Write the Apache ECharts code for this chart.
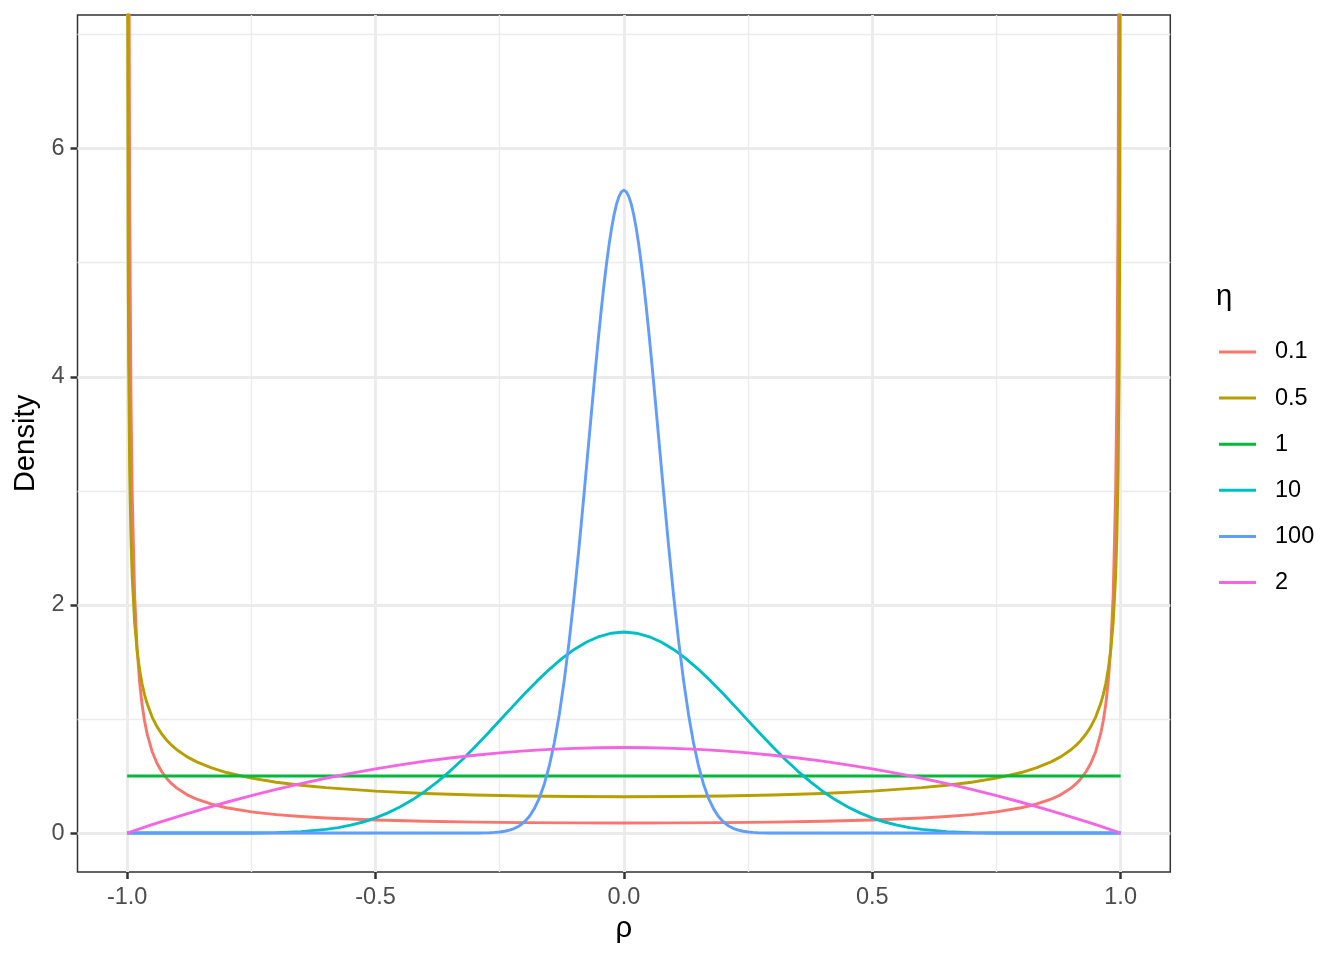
<!DOCTYPE html>
<html><head><meta charset="utf-8">
<script src="https://cdn.jsdelivr.net/npm/echarts@6/dist/echarts.min.js"></script>
<style>html,body{margin:0;padding:0;background:#fff}#c{width:1344px;height:960px}</style>
</head><body><div id="c"></div>
<script>
// ---- data ----
const seriesNames = ['0.1', '0.5', '1', '10', '100', '2'];

const rhoEnds = [-0.9995,-0.999,-0.998,-0.997,-0.995,-0.9925,-0.99,-0.985,-0.98,-0.975,-0.97,-0.965,-0.96,-0.95,-0.94,-0.93,-0.92,-0.91,-0.9,-0.88,-0.86,-0.83,-0.8,-0.75,-0.7,-0.65,-0.6,-0.5,-0.4,-0.3,-0.2,-0.1,
  0,
  0.1,0.2,0.3,0.4,0.5,0.6,0.65,0.7,0.75,0.8,0.83,0.86,0.88,0.9,0.91,0.92,0.93,0.94,0.95,0.96,0.965,0.97,0.975,0.98,0.985,0.99,0.9925,0.995,0.997,0.998,0.999,0.9995];
const dens01 = [44.27,23.73,12.72,8.837,5.585,3.882,3.000,2.087,1.615,1.324,1.126,0.9826,0.8733,0.7177,0.6119,0.5351,0.4768,0.4308,0.3937,0.3373,0.2965,0.2526,0.2215,0.1859,0.1619,0.1448,0.1320,0.1144,0.1033,0.0961,0.0916,0.0891,
  0.0883,
  0.0891,0.0916,0.0961,0.1033,0.1144,0.1320,0.1448,0.1619,0.1859,0.2215,0.2526,0.2965,0.3373,0.3937,0.4308,0.4768,0.5351,0.6119,0.7177,0.8733,0.9826,1.126,1.324,1.615,2.087,3.000,3.882,5.585,8.837,12.72,23.73,44.27];
const dens05 = [10.07,7.119,5.036,4.112,3.187,2.604,2.256,1.845,1.600,1.433,1.309,1.214,1.137,1.019,0.9330,0.8660,0.8122,0.7677,0.7303,0.6702,0.6238,0.5707,0.5305,0.4812,0.4457,0.4189,0.3979,0.3676,0.3473,0.3337,0.3249,0.3199,
  0.3183,
  0.3199,0.3249,0.3337,0.3473,0.3676,0.3979,0.4189,0.4457,0.4812,0.5305,0.5707,0.6238,0.6702,0.7303,0.7677,0.8122,0.8660,0.9330,1.019,1.137,1.214,1.309,1.433,1.600,1.845,2.256,2.604,3.187,4.112,5.036,7.119,10.07];

const rhoFlat = [-1, 0, 1];
const dens1 = [0.5, 0.5, 0.5];

const rhoCyan = [-1,-0.95,-0.9,-0.85,-0.8,-0.75,-0.7,-0.65,-0.6,-0.575,-0.55,-0.525,-0.5,-0.475,-0.45,-0.425,-0.4,-0.375,-0.35,-0.325,-0.3,-0.275,-0.25,-0.225,-0.2,-0.175,-0.15,-0.125,-0.1,-0.075,-0.05,-0.025,
  0,
  0.025,0.05,0.075,0.1,0.125,0.15,0.175,0.2,0.225,0.25,0.275,0.3,0.325,0.35,0.375,0.4,0.425,0.45,0.475,0.5,0.525,0.55,0.575,0.6,0.65,0.7,0.75,0.8,0.85,0.9,0.95,1];
const dens10 = [0,0,0,0,0.0002,0.0010,0.0041,0.0126,0.0317,0.0475,0.0689,0.0968,0.1323,0.1764,0.2299,0.2933,0.3669,0.4505,0.5435,0.6452,0.7540,0.8682,0.9857,1.1039,1.2202,1.3317,1.4357,1.5292,1.6096,1.6748,1.7228,1.7521,
  1.762,
  1.7521,1.7228,1.6748,1.6096,1.5292,1.4357,1.3317,1.2202,1.1039,0.9857,0.8682,0.7540,0.6452,0.5435,0.4505,0.3669,0.2933,0.2299,0.1764,0.1323,0.0968,0.0689,0.0475,0.0317,0.0126,0.0041,0.0010,0.0002,0,0,0,0];

const rhoPink = [-1,-0.95,-0.9,-0.85,-0.8,-0.75,-0.7,-0.65,-0.6,-0.55,-0.5,-0.45,-0.4,-0.35,-0.3,-0.25,-0.2,-0.15,-0.1,-0.05,
  0,
  0.05,0.1,0.15,0.2,0.25,0.3,0.35,0.4,0.45,0.5,0.55,0.6,0.65,0.7,0.75,0.8,0.85,0.9,0.95,1];
const dens2 = [0,0.0731,0.1425,0.2081,0.27,0.3281,0.3825,0.4331,0.48,0.5231,0.5625,0.5981,0.63,0.6581,0.6825,0.7031,0.72,0.7331,0.7425,0.7481,
  0.75,
  0.7481,0.7425,0.7331,0.72,0.7031,0.6825,0.6581,0.63,0.5981,0.5625,0.5231,0.48,0.4331,0.3825,0.3281,0.27,0.2081,0.1425,0.0731,0];

const rhoPeak = [-1,-0.5,-0.4,-0.35,-0.32,-0.30,-0.29,-0.28,-0.27,-0.26,-0.25,-0.24,-0.23,-0.22,-0.21,-0.20,-0.19,-0.18,-0.17,-0.16,-0.15,-0.14,-0.13,-0.12,-0.11,-0.10,-0.09,-0.08,-0.07,-0.06,-0.055,-0.05,-0.045,-0.04,-0.035,-0.03,-0.025,-0.02,-0.015,-0.01,-0.005,
  0,
  0.005,0.01,0.015,0.02,0.025,0.03,0.035,0.04,0.045,0.05,0.055,0.06,0.07,0.08,0.09,0.10,0.11,0.12,0.13,0.14,0.15,0.16,0.17,0.18,0.19,0.20,0.21,0.22,0.23,0.24,0.25,0.26,0.27,0.28,0.29,0.30,0.32,0.35,0.4,0.5,1];
const dens100 = [0,0,0,0,0.0001,0.0005,0.0009,0.0017,0.0031,0.0055,0.0095,0.0159,0.0260,0.0415,0.0648,0.0990,0.1479,0.2162,0.3091,0.4324,0.5922,0.7940,1.0425,1.3405,1.6884,2.0834,2.5189,2.9843,3.4650,3.9431,4.1747,4.3982,4.6104,4.8089,4.9911,5.1545,5.2968,5.4162,5.5109,5.5795,5.6211,
  5.635,
  5.6211,5.5795,5.5109,5.4162,5.2968,5.1545,4.9911,4.8089,4.6104,4.3982,4.1747,3.9431,3.4650,2.9843,2.5189,2.0834,1.6884,1.3405,1.0425,0.7940,0.5922,0.4324,0.3091,0.2162,0.1479,0.0990,0.0648,0.0415,0.0260,0.0159,0.0095,0.0055,0.0031,0.0017,0.0009,0.0005,0.0001,0,0,0,0];

const xMajor = [-1, -0.5, 0, 0.5, 1];
const xMinor = [-0.75, -0.25, 0.25, 0.75];
const yMajor = [0, 2, 4, 6];
const yMinor = [1, 3, 5, 7];

// ---- styling ----
const FONT = '"Liberation Sans", Arial, Helvetica, sans-serif';
const colors = ['#F8766D', '#B79F00', '#00BA38', '#00BFC4', '#619CFF', '#F564E3'];
const LW = 2.9;

const pairs = [[rhoEnds, dens01], [rhoEnds, dens05], [rhoFlat, dens1], [rhoCyan, dens10], [rhoPeak, dens100], [rhoPink, dens2]];

const gridLines = [];
xMajor.forEach(v => gridLines.push({ xAxis: v, lineStyle: { color: '#EBEBEB', width: 2.85, type: 'solid' } }));
xMinor.forEach(v => gridLines.push({ xAxis: v, lineStyle: { color: '#EBEBEB', width: 1.4, type: 'solid' } }));
yMajor.forEach(v => gridLines.push({ yAxis: v, lineStyle: { color: '#EBEBEB', width: 2.85, type: 'solid' } }));
yMinor.forEach(v => gridLines.push({ yAxis: v, lineStyle: { color: '#EBEBEB', width: 1.4, type: 'solid' } }));

const series = pairs.map((p, i) => {
  const s = {
    name: seriesNames[i],
    type: 'line',
    data: p[0].map((r, k) => [r, p[1][k]]),
    showSymbol: false,
    symbol: 'none',
    clip: true,
    z: 3,
    color: colors[i],
    itemStyle: { color: colors[i] },
    lineStyle: { color: colors[i], width: LW, join: 'round', cap: 'butt' },
    emphasis: { disabled: true },
    silent: true
  };
  if (i === 0) {
    s.markLine = {
      silent: true, z: 1, symbol: ['none', 'none'], label: { show: false },
      lineStyle: { type: 'solid' }, emphasis: { disabled: true },
      data: gridLines
    };
  }
  return s;
});

const chart = echarts.init(document.getElementById('c'), null, { renderer: 'canvas' });
chart.setOption({
  animation: false,
  backgroundColor: '#ffffff',
  color: colors,
  grid: { left: 77.5, right: 173.7, top: 15, bottom: 88, show: true, borderColor: '#333333', borderWidth: 1.5, backgroundColor: 'transparent' },
  xAxis: {
    type: 'value', min: -1.1, max: 1.1,
    axisLine: { show: false, onZero: false },
    axisTick: { show: true, customValues: xMajor, length: 7, lineStyle: { color: '#333333', width: 2.5 } },
    axisLabel: { customValues: xMajor, formatter: v => v.toFixed(1), color: '#4D4D4D', fontSize: 23.5, fontFamily: FONT, margin: 14 },
    splitLine: { show: false },
    name: 'ρ', nameLocation: 'middle', nameGap: 32,
    nameTextStyle: { fontSize: 29.3, color: '#000000', fontFamily: FONT }
  },
  yAxis: {
    type: 'value', min: -0.3415, max: 7.1715,
    axisLine: { show: false, onZero: false },
    axisTick: { show: true, customValues: yMajor, length: 7, lineStyle: { color: '#333333', width: 2.5 } },
    axisLabel: { customValues: yMajor, color: '#4D4D4D', fontSize: 23.5, fontFamily: FONT, margin: 13 },
    splitLine: { show: false },
    name: 'Density', nameLocation: 'middle', nameGap: 30, nameRotate: 90,
    nameTextStyle: { fontSize: 29.3, color: '#000000', fontFamily: FONT }
  },
  legend: {
    orient: 'vertical', left: 1219, top: 337, padding: 0, itemGap: 16.1,
    itemWidth: 37, itemHeight: 3, icon: 'rect', selectedMode: false,
    data: seriesNames,
    textStyle: { fontSize: 23.5, color: '#000000', fontFamily: FONT, lineHeight: 30, padding: [0, 0, 0, 14] }
  },
  graphic: [{
    type: 'text', left: 1216, top: 282,
    style: { text: 'η', fontSize: 29.3, fontFamily: FONT, fill: '#000000' }
  }],
  series: series
});
</script></body></html>
